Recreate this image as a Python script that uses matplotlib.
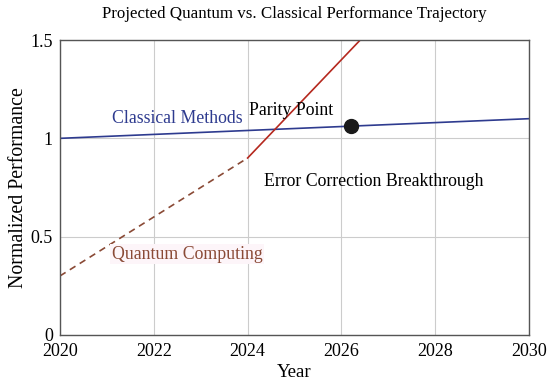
import numpy as np
import matplotlib
matplotlib.use("Agg")
import matplotlib.pyplot as plt

plt.rcParams['font.family'] = ['Liberation Serif', 'DejaVu Serif']

# data
classical_years = [2020, 2030]
classical_perf = [1.0, 1.1]

quantum_early_years = [2020, 2024]
quantum_early_perf = [0.3, 0.9]
quantum_late_years = [2024, 2028]
quantum_late_perf = [0.9, 1.9]

parity_year = 2026.2
parity_perf = 1.062

x_ticks = [2020, 2022, 2024, 2026, 2028, 2030]
y_ticks = [0, 0.5, 1, 1.5]
y_tick_labels = ['0', '0.5', '1', '1.5']

blue = '#2e3b8f'
red = '#b5281e'
brown = '#8a4a36'

fig = plt.figure(figsize=(5.5, 3.85), dpi=100)
ax = fig.add_axes([0.109, 0.13, 0.853, 0.766])

ax.plot(classical_years, classical_perf, color=blue, lw=1.2)
ax.plot(quantum_early_years, quantum_early_perf, color=brown, lw=1.2, ls=(0, (4, 3)))
ax.plot(quantum_late_years, quantum_late_perf, color=red, lw=1.2)
ax.plot(parity_year, parity_perf, 'o', color='#1a1a1a', ms=10, zorder=5)

ax.text(2021.1, 1.1, 'Classical Methods', color=blue, fontsize=12.8, va='center')
ax.text(2024.02, 1.14, 'Parity Point', color='black', fontsize=12.8, va='center')
ax.text(2024.35, 0.78, 'Error Correction Breakthrough', color='black', fontsize=12.8, va='center')
ax.text(2021.1, 0.41, 'Quantum Computing', color=brown, fontsize=12.8, va='center',
        bbox=dict(facecolor='#fdf5f9', edgecolor='none', pad=1))

ax.set_xlim(2020, 2030)
ax.set_ylim(0, 1.5)
ax.set_xticks(x_ticks)
ax.set_yticks(y_ticks)
ax.set_yticklabels(y_tick_labels)
ax.tick_params(axis='x', length=0, labelsize=13, pad=6)
ax.tick_params(axis='y', length=0, labelsize=13, pad=5)
ax.grid(True, color='#cccccc', lw=0.8)
ax.set_axisbelow(True)
for s in ax.spines.values():
    s.set_color('#555555')
    s.set_linewidth(1.0)

ax.set_title('Projected Quantum vs. Classical Performance Trajectory', fontsize=12.2, pad=16)
ax.set_xlabel('Year', fontsize=13.5, labelpad=3)
ax.set_ylabel('Normalized Performance', fontsize=14.3, labelpad=2)

fig.savefig('out.png', dpi=100)
